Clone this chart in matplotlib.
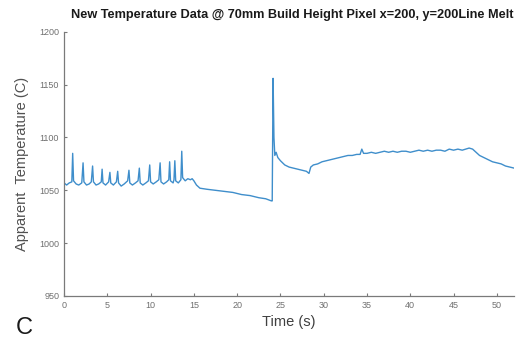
#!/usr/bin/env python3

import numpy as np
import matplotlib as mpl
mpl.use("Agg")
import matplotlib.pyplot as plt

# Data, (time s, temperature C)

pulsed_part = [(0.0, 1057), (0.3, 1055), (0.6, 1057), (0.9, 1058), (1.0, 1085),
               (1.1, 1059), (1.4, 1056), (1.7, 1055), (2.05, 1057), (2.2, 1076),
               (2.3, 1058), (2.6, 1055), (2.9, 1056), (3.15, 1058), (3.3, 1073),
               (3.4, 1058), (3.7, 1055), (4.0, 1056), (4.3, 1058), (4.4, 1070),
               (4.5, 1057), (4.8, 1055), (5.15, 1058), (5.3, 1067), (5.4, 1057),
               (5.7, 1055), (6.05, 1058), (6.2, 1068), (6.3, 1057), (6.6, 1054),
               (6.95, 1056), (7.35, 1059), (7.5, 1069), (7.6, 1057), (7.9, 1055),
               (8.25, 1057), (8.55, 1059), (8.7, 1071), (8.8, 1057), (9.1, 1055),
               (9.45, 1057), (9.75, 1059), (9.9, 1074), (10.0, 1058), (10.3, 1056),
               (10.65, 1058), (10.95, 1060), (11.1, 1076), (11.2, 1058), (11.5, 1056),
               (11.85, 1058), (12.1, 1060), (12.2, 1077), (12.3, 1059), (12.6, 1057),
               (12.7, 1060), (12.8, 1078), (12.9, 1059), (13.2, 1057), (13.5, 1060),
               (13.6, 1087), (13.7, 1062), (14.0, 1059), (14.3, 1061), (14.6, 1060),
               (14.8, 1061), (15.0, 1059)]

cooling_part = [(15.3, 1055), (15.7, 1052), (16.5, 1051), (17.5, 1050), (18.5, 1049),
                (19.5, 1048), (20.5, 1046), (21.5, 1045), (22.5, 1043), (23.3, 1042),
                (23.95, 1040)]

reheat_part = [(24.05, 1040), (24.15, 1156), (24.25, 1100), (24.35, 1083), (24.5, 1086),
               (24.7, 1081), (25.0, 1078), (25.5, 1074), (26.0, 1072), (26.5, 1071),
               (27.0, 1070), (27.5, 1069), (28.0, 1068), (28.3, 1066), (28.5, 1072),
               (28.8, 1074), (29.3, 1075), (29.8, 1077), (30.3, 1078), (30.8, 1079),
               (31.3, 1080), (31.8, 1081), (32.3, 1082), (32.8, 1083), (33.3, 1083),
               (33.8, 1084), (34.2, 1084), (34.4, 1089), (34.6, 1085), (35.0, 1085),
               (35.5, 1086), (36.0, 1085), (36.5, 1086), (37.0, 1087), (37.5, 1086),
               (38.0, 1087), (38.5, 1086), (39.0, 1087), (39.5, 1087), (40.0, 1086),
               (40.5, 1087), (41.0, 1088), (41.5, 1087), (42.0, 1088), (42.5, 1087),
               (43.0, 1088), (43.5, 1088), (44.0, 1087), (44.5, 1089), (45.0, 1088),
               (45.5, 1089), (46.0, 1088), (46.4, 1089), (46.8, 1090), (47.2, 1089),
               (47.6, 1086), (48.0, 1083), (48.5, 1081), (49.0, 1079), (49.5, 1077),
               (50.0, 1076), (50.5, 1075), (51.0, 1073), (51.5, 1072), (52.0, 1071)]

yticks = [950, 1000, 1050, 1100, 1150, 1200]
xticks = [0, 5, 10, 15, 20, 25, 30, 35, 40, 45, 50]

series = np.array(pulsed_part + cooling_part + reheat_part, dtype = float)
time_s = series[:, 0]
temp_c = series[:, 1]

# Formatting

mpl.rcParams['font.family'] = ['Liberation Sans', 'DejaVu Sans']

# Plot

fig = plt.figure(figsize = (5.18, 3.39), dpi = 100)
ax = fig.add_axes([0.1236, 0.127, 0.869, 0.779])

ax.plot(time_s, temp_c, ls = '-', lw = 1.0, color = '#3f8ecb')

ax.set_xlim(0, 52)
ax.set_ylim(950, 1200)
ax.set_xticks(xticks)
ax.set_yticks(yticks)

for side in ['top', 'right']:
  ax.spines[side].set_visible(False)
for side in ['left', 'bottom']:
  ax.spines[side].set_color('#7a7a7a')
  ax.spines[side].set_linewidth(0.9)

ax.tick_params(axis = 'both', direction = 'in', length = 2.5, width = 0.8,
               colors = '#7a7a7a', labelsize = 6.5, labelcolor = '#707070')

ax.set_xlabel("Time (s)", size = 10.5, color = '#404040', labelpad = 4)
ax.set_ylabel("Apparent  Temperature (C)", size = 10.5, color = '#505050',
              labelpad = 7)

fig.text(0.565, 0.955, "New Temperature Data @ 70mm Build Height Pixel x=200, y=200Line Melt",
         ha = 'center', va = 'center', fontsize = 9.2, fontweight = 'bold',
         color = '#1a1a1a')
fig.text(0.03, 0.015, "C", fontsize = 17, color = '#1a1a1a')

fig.savefig("out.png", dpi = 100)
